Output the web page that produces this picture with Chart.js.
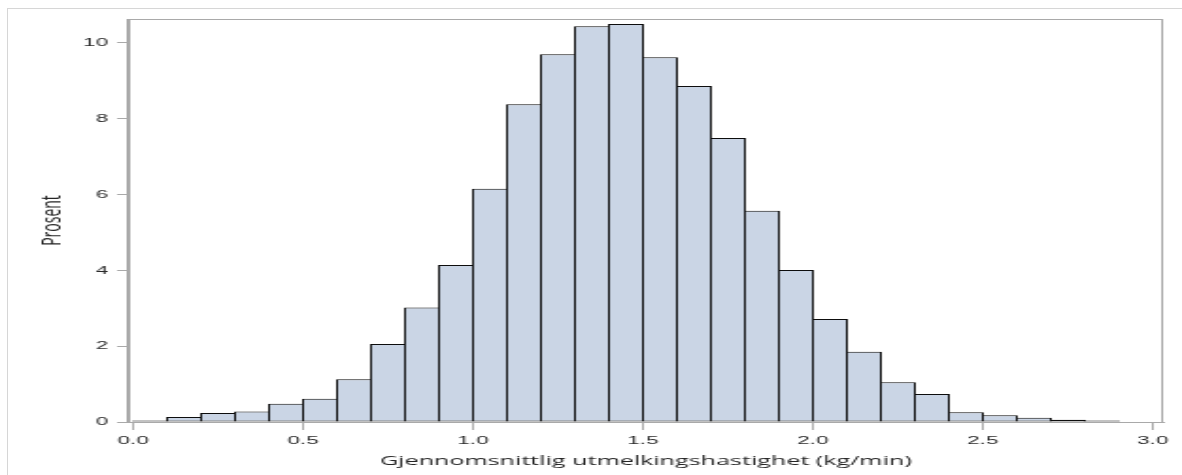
<!DOCTYPE html>
<html>
<head>
<meta charset="utf-8">
<script src="https://cdn.jsdelivr.net/npm/chart.js@4.4.1/dist/chart.umd.min.js"></script>
<style>
  html, body { margin: 0; padding: 0; background: #ffffff; overflow: hidden; }
  #outer { position: absolute; left: 7px; top: 8px; width: 1300px; height: 600px;
           border-top: 1px solid #d6d6d6; border-left: 1px solid #d6d6d6; }
  #wrap { position: absolute; left: 0; top: 0; width: 626px; height: 475px;
          transform: scaleX(1.888179); transform-origin: 0 0; }
  canvas { display: block; }
</style>
</head>
<body>
<div id="outer"></div>
<div id="wrap"><canvas id="c" width="626" height="475"></canvas></div>
<script>
// Histogram bins (lower edge, kg/min), bin width 0.1
const binStarts = [0.0,0.1,0.2,0.3,0.4,0.5,0.6,0.7,0.8,0.9,1.0,1.1,1.2,1.3,1.4,1.5,1.6,1.7,1.8,1.9,2.0,2.1,2.2,2.3,2.4,2.5,2.6,2.7,2.8];
const binWidth = 0.1;
// Percent of observations in each bin
const percents = [0.04,0.13,0.24,0.28,0.48,0.61,1.13,2.06,3.02,4.14,6.15,8.38,9.70,10.44,10.50,9.62,8.86,7.49,5.57,4.01,2.72,1.85,1.05,0.74,0.26,0.18,0.11,0.06,0.04];
const xTickValues = [0.0,0.5,1.0,1.5,2.0,2.5,3.0];
const yTickValues = [0,2,4,6,8,10];
const xTitle = 'Gjennomsnittlig utmelkingshastighet (kg/min)';
const yTitle = 'Prosent';

const points = binStarts.map((b, i) => ({ x: b + binWidth / 2, y: percents[i] }));

const framePlugin = {
  id: 'frame',
  beforeDatasetsDraw(chart) {
    const { ctx, chartArea: a } = chart;
    ctx.save();
    ctx.strokeStyle = '#a9a9a9';
    ctx.lineWidth = 1;
    ctx.strokeRect(Math.round(a.left) - 0.5, Math.round(a.top) + 0.5,
                   Math.round(a.right - a.left), Math.round(a.bottom - a.top));
    ctx.restore();
  }
};

new Chart(document.getElementById('c'), {
  type: 'bar',
  data: {
    datasets: [{
      data: points,
      backgroundColor: '#cad5e5',
      borderColor: '#0d0d0d',
      borderWidth: 1,
      borderSkipped: false,
      barPercentage: 19 / 18,
      categoryPercentage: 1.0
    }]
  },
  plugins: [framePlugin],
  options: {
    responsive: false,
    animation: false,
    events: [],
    layout: { padding: { left: 0, top: 19, right: 10, bottom: 0 } },
    plugins: { legend: { display: false }, tooltip: { enabled: false } },
    scales: {
      x: {
        type: 'linear',
        offset: false,
        min: -2.5 / 180,
        max: 545.5 / 180,
        afterBuildTicks(scale) { scale.ticks = xTickValues.map(v => ({ value: v })); },
        afterFit(scale) { scale.height = 53; },
        grid: { drawOnChartArea: false, drawTicks: true, tickLength: 8, color: '#a9a9a9', offset: false },
        border: { display: true, color: '#a9a9a9' },
        ticks: {
          autoSkip: false, maxRotation: 0, padding: 4,
          color: '#2a2a2a',
          font: { family: 'Liberation Sans, Arial, sans-serif', size: 11.8 },
          callback: v => Number(v).toFixed(1)
        },
        title: {
          display: true, text: xTitle, color: '#262626',
          font: { family: 'Open Sans, sans-serif', size: 13.3 },
          padding: { top: 0, bottom: 6 }
        }
      },
      y: {
        min: 0,
        max: 10.63,
        afterBuildTicks(scale) { scale.ticks = yTickValues.map(v => ({ value: v })); },
        afterFit(scale) { scale.width = 68; },
        grid: { drawOnChartArea: false, drawTicks: true, tickLength: 6, color: '#a9a9a9' },
        border: { display: true, color: '#a9a9a9' },
        ticks: {
          padding: 4.8,
          color: '#2a2a2a',
          font: { family: 'Liberation Sans, Arial, sans-serif', size: 11.8 },
          callback: v => String(v)
        },
        title: {
          display: true, text: yTitle, color: '#262626',
          font: { family: 'Open Sans, sans-serif', size: 14 },
          padding: { top: 19.7, bottom: 0 }
        }
      }
    }
  }
});
</script>
</body>
</html>
